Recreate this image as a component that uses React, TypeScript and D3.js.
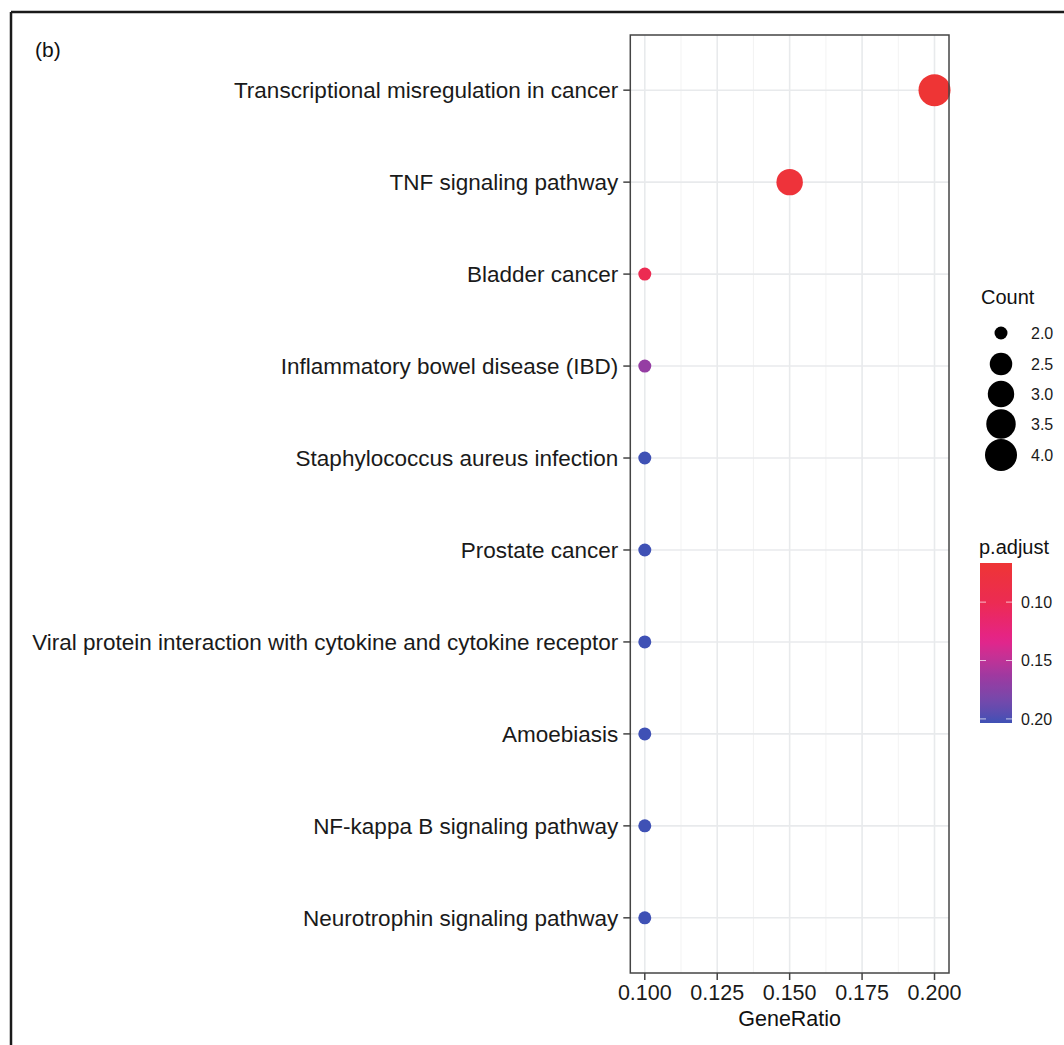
import React from "react";
import * as d3 from "d3";

const categories = [
  "Transcriptional misregulation in cancer",
  "TNF signaling pathway",
  "Bladder cancer",
  "Inflammatory bowel disease (IBD)",
  "Staphylococcus aureus infection",
  "Prostate cancer",
  "Viral protein interaction with cytokine and cytokine receptor",
  "Amoebiasis",
  "NF-kappa B signaling pathway",
  "Neurotrophin signaling pathway",
];
const geneRatio = [0.2, 0.15, 0.1, 0.1, 0.1, 0.1, 0.1, 0.1, 0.1, 0.1];
const counts = [4, 3, 2, 2, 2, 2, 2, 2, 2, 2];
const pAdjust = [0.0665, 0.072, 0.1, 0.168, 0.2035, 0.2035, 0.2035, 0.2035, 0.2035, 0.2035];
const xTicks = [0.1, 0.125, 0.15, 0.175, 0.2];
const xMinor = [0.1125, 0.1375, 0.1625, 0.1875];
const countLegend = [2.0, 2.5, 3.0, 3.5, 4.0];
const pTicks = [0.1, 0.15, 0.2];
const colorStops = [0.0665, 0.1, 0.133, 0.165, 0.2035];
const colorValues = ["#EE3535", "#EC2B52", "#E4238A", "#9A3AA2", "#3F51B5"];

const FONT = "'Liberation Sans', Arial, Helvetica, sans-serif";

export default function App() {
  const W = 1064, H = 1045;
  const px0 = 630.3, px1 = 949, py0 = 35, py1 = 973;
  const x = d3.scaleLinear().domain([0.095, 0.205]).range([px0, px1]);
  const y = d3.scalePoint<string>().domain(categories).range([py0, py1]).padding(0.6);
  const pMin = d3.min(pAdjust)!, pMax = d3.max(pAdjust)!;
  const color = d3.scaleLinear<string>().domain(colorStops).range(colorValues).interpolate(d3.interpolateLab);
  const cMin = d3.min(counts)!, cMax = d3.max(counts)!;
  const dMin = 13, dMax = 32;
  const diam = (c: number) => dMin + Math.sqrt((c - cMin) / (cMax - cMin)) * (dMax - dMin);

  // colorbar
  const cbX = 980, cbW = 32, cbTop = 563, cbBot = 723;
  const cbScale = d3.scaleLinear().domain([pMin, pMax]).range([cbTop, cbBot]);
  const gradStops = d3.range(0, 1.0001, 0.05).map((t) => ({
    off: t,
    col: color(pMin + t * (pMax - pMin)),
  }));

  const legendY = [333, 364, 394, 424, 455];

  return (
    <div style={{ position: "absolute", left: 0, top: 0 }}>
      <svg width={W} height={H} style={{ display: "block", background: "#fff" }} fontFamily={FONT}>
        <defs>
          <linearGradient id="cb" x1="0" y1="0" x2="0" y2="1">
            {gradStops.map((s, i) => (
              <stop key={i} offset={s.off} stopColor={s.col} />
            ))}
          </linearGradient>
        </defs>
        <rect x={0} y={0} width={W} height={H} fill="#fff" />
        {/* outer frame */}
        <line x1={11} y1={12} x2={W} y2={12} stroke="#1a1a1a" strokeWidth={2.5} />
        <line x1={11} y1={12} x2={11} y2={H} stroke="#1a1a1a" strokeWidth={2.5} />
        <text x={35} y={57} fontSize={21} fill="#111">(b)</text>

        {/* grid */}
        {xMinor.map((v) => (
          <line key={"mn" + v} x1={x(v)} x2={x(v)} y1={py0} y2={py1} stroke="#F2F2F2" strokeWidth={0.9} />
        ))}
        {xTicks.map((v) => (
          <line key={"mj" + v} x1={x(v)} x2={x(v)} y1={py0} y2={py1} stroke="#E8EAEC" strokeWidth={1.6} />
        ))}
        {categories.map((c) => (
          <line key={"hg" + c} x1={px0} x2={px1} y1={y(c)} y2={y(c)} stroke="#E8EAEC" strokeWidth={1.6} />
        ))}

        {/* points */}
        {categories.map((c, i) => (
          <circle key={"pt" + c} cx={x(geneRatio[i])} cy={y(c)} r={diam(counts[i]) / 2} fill={color(pAdjust[i])} />
        ))}

        {/* panel border */}
        <rect x={px0} y={py0} width={px1 - px0} height={py1 - py0} fill="none" stroke="#444" strokeWidth={1.5} />

        {/* y axis */}
        {categories.map((c) => (
          <g key={"yl" + c}>
            <line x1={px0 - 7} x2={px0} y1={y(c)} y2={y(c)} stroke="#444" strokeWidth={1.5} />
            <text x={px0 - 12} y={y(c)} dy="0.35em" textAnchor="end" fontSize={22.5} fill="#1a1a1a">
              {c}
            </text>
          </g>
        ))}

        {/* x axis */}
        {xTicks.map((v) => (
          <g key={"xl" + v}>
            <line x1={x(v)} x2={x(v)} y1={py1} y2={py1 + 7} stroke="#444" strokeWidth={1.5} />
            <text x={x(v)} y={1000} textAnchor="middle" fontSize={21.5} fill="#1a1a1a">
              {d3.format(".3f")(v)}
            </text>
          </g>
        ))}
        <text x={(px0 + px1) / 2} y={1026} textAnchor="middle" fontSize={21.5} fill="#111">
          GeneRatio
        </text>

        {/* Count legend */}
        <text x={981} y={304} fontSize={20} fill="#111">Count</text>
        {countLegend.map((c, i) => (
          <g key={"cl" + c}>
            <circle cx={1001} cy={legendY[i]} r={diam(c) / 2} fill="#000" />
            <text x={1031} y={legendY[i]} dy="0.35em" fontSize={16} fill="#1a1a1a">
              {d3.format(".1f")(c)}
            </text>
          </g>
        ))}

        {/* p.adjust legend */}
        <text x={979} y={554} fontSize={20} fill="#111">p.adjust</text>
        <rect x={cbX} y={cbTop} width={cbW} height={cbBot - cbTop} fill="url(#cb)" />
        {pTicks.map((v) => (
          <g key={"pt" + v}>
            <line x1={cbX} x2={cbX + 6} y1={cbScale(v)} y2={cbScale(v)} stroke="#fff" strokeOpacity={0.7} strokeWidth={1} />
            <line x1={cbX + cbW - 6} x2={cbX + cbW} y1={cbScale(v)} y2={cbScale(v)} stroke="#fff" strokeOpacity={0.7} strokeWidth={1} />
            <text x={1021} y={cbScale(v)} dy="0.35em" fontSize={16} fill="#1a1a1a">
              {d3.format(".2f")(v)}
            </text>
          </g>
        ))}
      </svg>
    </div>
  );
}
